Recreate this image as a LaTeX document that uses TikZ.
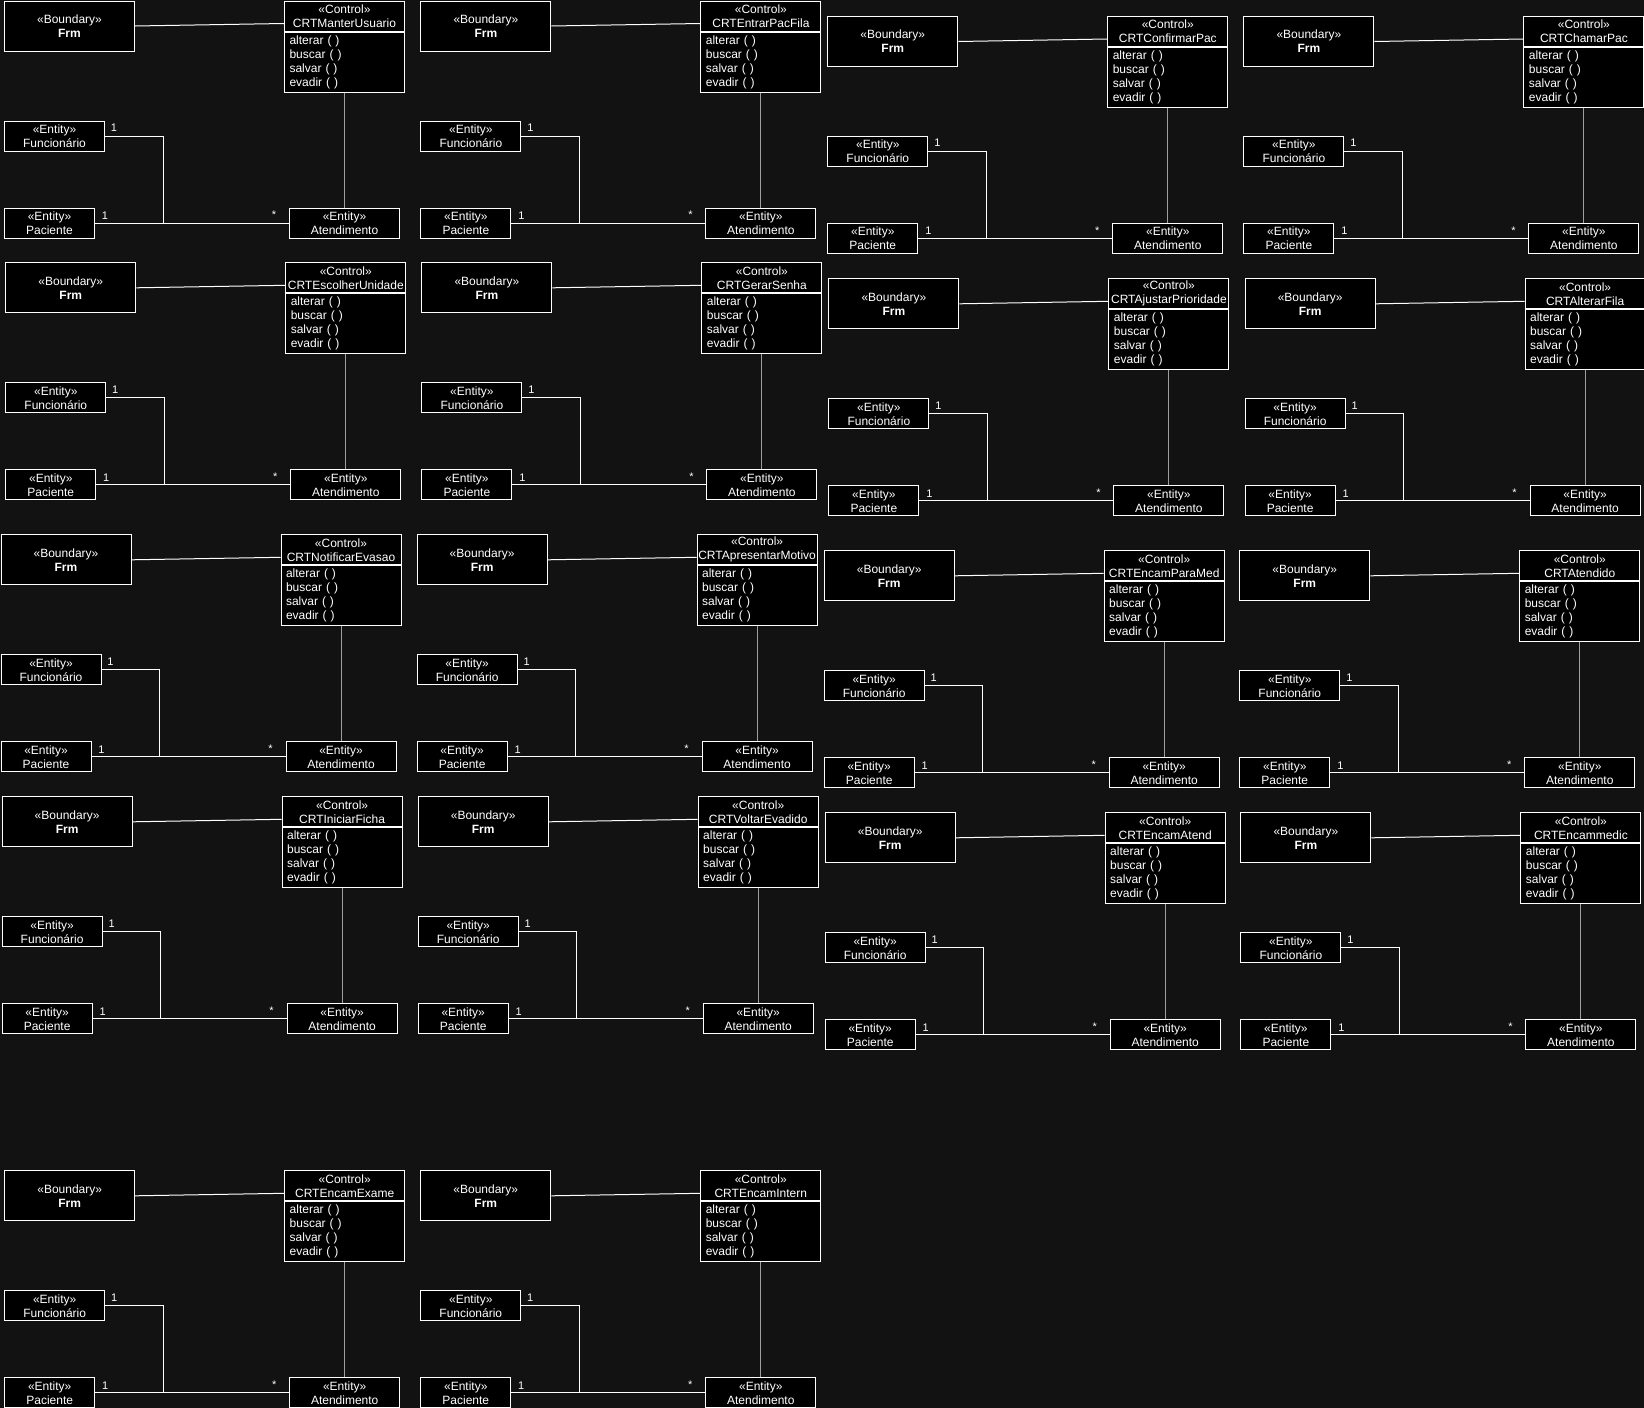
\documentclass[tikz,border=0pt]{standalone}
\usepackage{fontspec}
\setmainfont{Liberation Sans}
\usepackage{tikz}
\usetikzlibrary{calc}
\definecolor{bgcol}{HTML}{121212}
\definecolor{boxcol}{HTML}{000000}
\definecolor{vlinecol}{HTML}{9E9E9E}

\begin{document}
\begin{tikzpicture}[x=1pt, y=-1pt, font=\fontsize{12pt}{14pt}\selectfont,
  umlbox/.style={draw=white, fill=boxcol, text=white, line width=1pt, inner sep=0pt, align=center},
  bndbox/.style={umlbox, minimum width=130pt, minimum height=50pt},
  entbox/.style={umlbox, minimum height=30pt},
  ctlhead/.style={umlbox, text width=120pt, minimum height=30pt},
  ctlbody/.style={umlbox, align=left, text width=110pt, inner xsep=5pt, minimum height=60pt},
  assoc/.style={draw=white, line width=1pt},
  mult/.style={text=white, inner sep=0pt, font=\fontsize{11pt}{13pt}\selectfont}]
% dark canvas, fixed to the page size
\useasboundingbox (0,0) rectangle (1644,1408);
\fill[bgcol] (0,0) rectangle (1644,1408);

% one boundary / control / entity group per use case
\foreach \i/\bx/\by/\crt in {1/4/0.5/CRTManterUsuario, 2/420.4/0.5/CRTEntrarPacFila,
    3/827.3/16/CRTConfirmarPac, 4/1243.4/16/CRTChamarPac,
    5/5.3/262.3/CRTEscolherUnidade, 6/421.4/262.3/CRTGerarSenha,
    7/828.4/278.3/CRTAjustarPrioridade, 8/1244.6/278.3/CRTAlterarFila,
    9/0.5/534.3/CRTNotificarEvasao, 10/416.6/534.3/CRTApresentarMotivo,
    11/823.7/550.3/CRTEncamParaMed, 12/1239.3/550.3/CRTAtendido,
    13/1.6/796.3/CRTIniciarFicha, 14/417.7/796.3/CRTVoltarEvadido,
    15/824.7/812.3/CRTEncamAtend, 16/1240.4/812.3/CRTEncammedic,
    17/4.2/1170.3/CRTEncamExame, 18/420.3/1170.3/CRTEncamIntern}{
  \node[bndbox, anchor=north west] (bnd\i) at (\bx,\by) {«Boundary»\\\textbf{Frm}};
  \node[ctlhead, anchor=north west] (ctlh\i) at (\bx+280,\by) {«Control»\\\crt};
  \node[ctlbody, anchor=north] (ctlm\i) at (ctlh\i.south) {alterar ( )\\buscar ( )\\salvar ( )\\evadir ( )};
  \node[entbox, minimum width=100pt, anchor=north west] (fun\i) at (\bx,\by+120) {«Entity»\\Funcionário};
  \node[entbox, minimum width=90pt, anchor=north west] (pac\i) at (\bx,\by+207) {«Entity»\\Paciente};
  \node[entbox, minimum width=110pt, anchor=north west] (ate\i) at (\bx+285,\by+207) {«Entity»\\Atendimento};
  \coordinate (jn\i) at (\bx+159,\by+222);
  \draw[assoc] (bnd\i.east) -- ($(ctlh\i.west)+(0,7.5)$);
  \draw[assoc, draw=vlinecol] (ctlm\i.south) -- (ate\i.north);
  \draw[assoc] (pac\i.east) -- (ate\i.west);
  \draw[assoc] (fun\i.east) -| (jn\i);
  \node[mult] (mf\i) at (\bx+110,\by+127) {1};
  \node[mult] (mp\i) at (\bx+101,\by+215) {1};
  \node[mult] (ma\i) at (\bx+270,\by+214.5) {*};
}
\end{tikzpicture}
\end{document}
